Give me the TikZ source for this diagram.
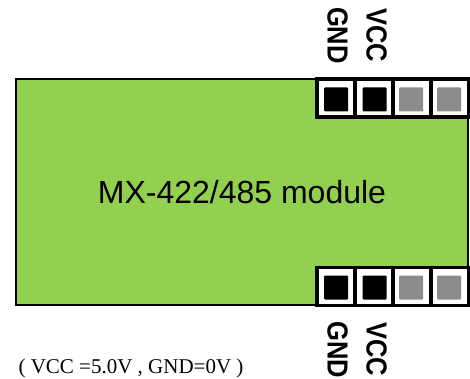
\documentclass[tikz,border=0pt]{standalone}
\usepackage{fontspec}
\setmainfont{Liberation Sans}
\newfontfamily\capfont{Liberation Serif}
\tikzset{
board/.style={rectangle,draw=black,fill=boardgreen,line width=1.5pt,minimum width=452pt,minimum height=226pt,inner sep=0pt,font=\fontsize{32}{36}\selectfont},
cell/.style={rectangle,draw=black,fill=white,line width=3.2pt,minimum width=38pt,minimum height=38pt,inner sep=0pt},
pinblack/.style={rectangle,rounded corners=1pt,fill=black,minimum size=24pt,inner sep=0pt},
pingray/.style={rectangle,rounded corners=1pt,fill=pingraycol,minimum size=24pt,inner sep=0pt},
pinlabel/.style={rotate=-90,xscale=.88,inner sep=0pt,font=\fontsize{29}{31}\selectfont\bfseries}
}
\definecolor{boardgreen}{HTML}{92D050}
\definecolor{pingraycol}{HTML}{8C8C8C}
\begin{document}
\begin{tikzpicture}[x=1pt,y=-1pt]
\useasboundingbox (0,0) rectangle (470,379);
\node[board] (module) at (242,192) {MX-422/485 module};
% top header
\node[cell] (t1) at (336,98) {};
\node[cell] (t2) at (374.5,98) {};
\node[cell] (t3) at (412,98) {};
\node[cell] (t4) at (450,98) {};
\node[pinblack] (tp1) at (336,99.5) {};
\node[pinblack] (tp2) at (374.5,99.5) {};
\node[pingray] (tp3) at (411,99.5) {};
\node[pingray] (tp4) at (449,99.5) {};
% bottom header
\node[cell] (b1) at (336,286.5) {};
\node[cell] (b2) at (374.5,286.5) {};
\node[cell] (b3) at (412,286.5) {};
\node[cell] (b4) at (450,286.5) {};
\node[pinblack] (bp1) at (336,287.5) {};
\node[pinblack] (bp2) at (374.5,287.5) {};
\node[pingray] (bp3) at (411,287.5) {};
\node[pingray] (bp4) at (449,287.5) {};
% labels
\node[pinlabel] (gndt) at (337.5,35.5) {GND};
\node[pinlabel] (vcct) at (376.5,35) {VCC};
\node[pinlabel] (gndb) at (337.5,349.5) {GND};
\node[pinlabel] (vccb) at (376.5,349) {VCC};
\node[inner sep=0pt,font=\capfont\fontsize{21}{24}\selectfont] (note) at (131,368) {( VCC =5.0V , GND=0V )};
\end{tikzpicture}
\end{document}
